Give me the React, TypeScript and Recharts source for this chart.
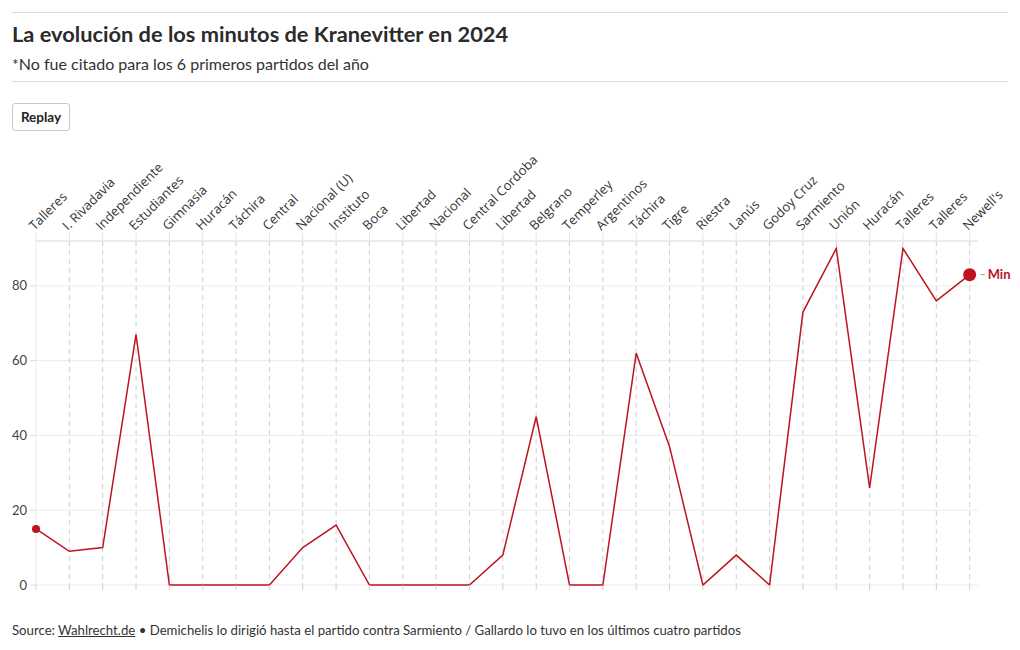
import React from 'react';
import {
  LineChart,
  Line,
  XAxis,
  YAxis,
  CartesianGrid,
  ReferenceLine,
} from 'recharts';

const rivales = [
  'Talleres', 'I. Rivadavia', 'Independiente', 'Estudiantes', 'Gimnasia', 'Huracán',
  'Táchira', 'Central', 'Nacional (U)', 'Instituto', 'Boca', 'Libertad', 'Nacional',
  'Central Cordoba', 'Libertad', 'Belgrano', 'Temperley', 'Argentinos', 'Táchira',
  'Tigre', 'Riestra', 'Lanús', 'Godoy Cruz', 'Sarmiento', 'Unión', 'Huracán',
  'Talleres', 'Talleres', "Newell's",
];

const minutos = [
  15, 9, 10, 67, 0, 0, 0, 0, 10, 16, 0, 0, 0, 0, 8, 45, 0, 0, 62, 37, 0, 8, 0, 73,
  90, 26, 90, 76, 83,
];

const yTicks = [0, 20, 40, 60, 80];

const RED = '#bd1420';
const FONT = 'Lato, "Noto Sans", sans-serif';

const data = rivales.map((name, i) => ({ i, name, min: minutos[i] }));
const xTicks = data.map((d) => d.i);

function TopTick(props: any) {
  const { x, y, payload } = props;
  const label = rivales[payload.value] ?? '';
  const px = x - 1.5;
  const py = y + 1;
  return (
    <text
      x={px}
      y={py}
      transform={`rotate(-45 ${px} ${py})`}
      textAnchor="start"
      fontSize={13}
      fontFamily='"Open Sans", sans-serif'
      fill="#333"
    >
      {label}
    </text>
  );
}

// little dashed stubs under the zero line
function BottomStub(props: any) {
  const { x, y } = props;
  return <line x1={x} x2={x} y1={y} y2={y + 5} stroke="#cfcfcf" />;
}

function EndDot(props: any) {
  const { cx, cy, index } = props;
  if (index === 0) {
    return <circle key="d0" cx={cx} cy={cy} r={4} fill={RED} />;
  }
  if (index === data.length - 1) {
    return (
      <g key="dlast">
        <circle cx={cx} cy={cy} r={6.5} fill={RED} />
        <line x1={cx + 11} x2={cx + 15} y1={cy} y2={cy} stroke="#999" />
        <text
          x={cx + 18}
          y={cy + 4.5}
          fontSize={13}
          fontWeight={700}
          fontFamily={FONT}
          fill={RED}
        >
          Min
        </text>
      </g>
    );
  }
  return <g key={`d${index}`} />;
}

export default function App() {
  return (
    <div
      style={{
        position: 'relative',
        width: 1020,
        height: 650,
        margin: -8,
        boxSizing: 'border-box',
        border: '1px solid #dedede',
        background: '#fff',
        fontFamily: FONT,
        color: '#333',
      }}
    >
      <div style={{ position: 'absolute', left: 0, top: 0 }}>
        <LineChart
          width={1018}
          height={648}
          data={data}
          margin={{ top: 160, right: 41, bottom: 58, left: 0 }}
        >
          <CartesianGrid horizontal vertical={false} stroke="#ebebeb" />
          {xTicks.map((t) => (
            <ReferenceLine
              key={t}
              x={t}
              stroke={t === 0 ? '#ebebeb' : '#cfcfcf'}
              strokeDasharray={t === 0 ? undefined : '5 4'}
            />
          ))}
          <XAxis
            dataKey="i"
            type="number"
            domain={[0, 28.25]}
            ticks={xTicks}
            interval={0}
            orientation="top"
            height={80}
            axisLine={{ stroke: '#e3e3e3' }}
            tickLine={{ stroke: '#e3e3e3' }}
            tickSize={8}
            tickMargin={3}
            tick={<TopTick />}
          />
          <XAxis
            xAxisId="bottom"
            dataKey="i"
            type="number"
            domain={[0, 28.25]}
            ticks={xTicks}
            interval={0}
            orientation="bottom"
            height={6}
            axisLine={false}
            tickLine={false}
            tickSize={0}
            tickMargin={0}
            tick={<BottomStub />}
          />
          <YAxis
            type="number"
            domain={[0, 92]}
            ticks={yTicks}
            width={35}
            axisLine={false}
            tickLine={{ stroke: '#dcdcdc' }}
            tickSize={6}
            tickMargin={3}
            tick={{ fontSize: 13, fill: '#444', fontFamily: FONT }}
          />
          <Line
            dataKey="min"
            type="linear"
            stroke={RED}
            strokeWidth={1.5}
            dot={<EndDot />}
            activeDot={false}
            isAnimationActive={false}
          />
        </LineChart>
      </div>

      <div style={{ position: 'absolute', left: 11, right: 11, top: 11, borderTop: '1px solid #dcdcdc' }} />
      <div
        style={{
          position: 'absolute',
          left: 11,
          top: 19,
          fontSize: 21.8,
          fontWeight: 700,
          color: '#2b2b2b',
          whiteSpace: 'nowrap',
        }}
      >
        La evolución de los minutos de Kranevitter en 2024
      </div>
      <div style={{ position: 'absolute', left: 11, top: 53, fontSize: 16, color: '#333', whiteSpace: 'nowrap' }}>
        *No fue citado para los 6 primeros partidos del año
      </div>
      <div style={{ position: 'absolute', left: 11, right: 11, top: 80, borderTop: '1px solid #dcdcdc' }} />
      <div
        style={{
          position: 'absolute',
          left: 11,
          top: 102,
          width: 56,
          height: 26,
          border: '1px solid #c8c8c8',
          borderRadius: 3,
          fontSize: 13.5,
          fontWeight: 700,
          color: '#222',
          display: 'flex',
          alignItems: 'center',
          justifyContent: 'center',
          background: '#fff',
        }}
      >
        Replay
      </div>
      <div style={{ position: 'absolute', left: 11, top: 621, fontSize: 13.2, color: '#333', whiteSpace: 'nowrap' }}>
        Source: <span style={{ textDecoration: 'underline' }}>Wahlrecht.de</span> • Demichelis lo dirigió hasta el
        partido contra Sarmiento / Gallardo lo tuvo en los últimos cuatro partidos
      </div>
    </div>
  );
}
